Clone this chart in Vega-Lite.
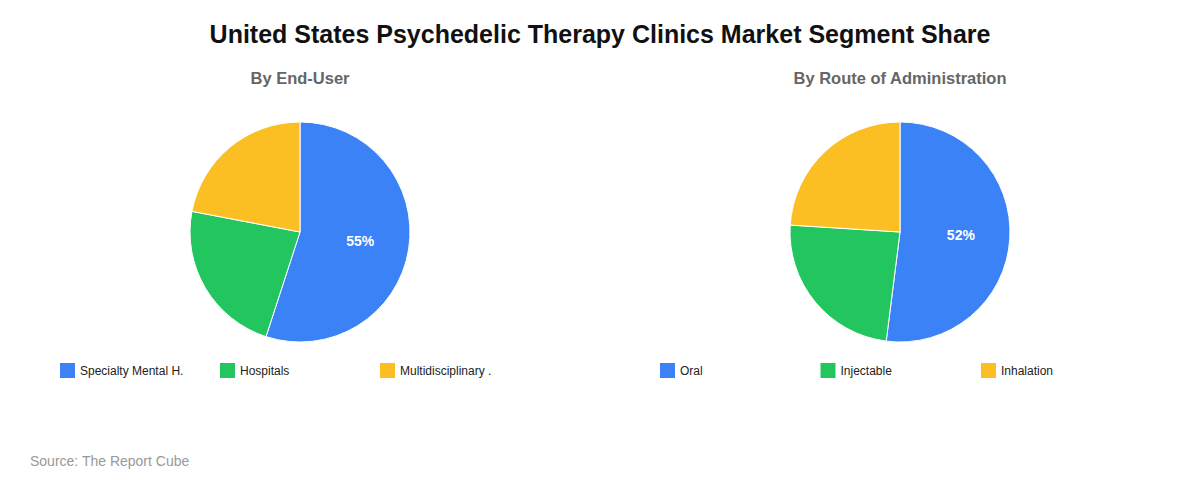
{
  "$schema": "https://vega.github.io/schema/vega-lite/v6.json",
  "padding": {"top": 22, "left": 0, "right": 0, "bottom": 10},
  "background": "white",
  "title": {
    "text": "United States Psychedelic Therapy Clinics Market Segment Share",
    "fontSize": 25,
    "fontWeight": "bold",
    "font": "Liberation Sans",
    "color": "#111111",
    "anchor": "middle",
    "offset": 23
  },
  "config": {
    "view": {"stroke": null},
    "font": "Liberation Sans",
    "concat": {"spacing": 0}
  },
  "vconcat": [
    {
      "title": {
        "text": "Source: The Report Cube",
        "orient": "bottom",
        "anchor": "start",
        "fontSize": 14,
        "fontWeight": "normal",
        "color": "#999999",
        "dx": 30,
        "offset": 77
      },
      "hconcat": [
        {
          "width": 600,
          "height": 260,
          "title": {"text": "By End-User", "fontSize": 16.5, "fontWeight": "bold", "color": "#666666", "anchor": "middle", "offset": 15},
          "data": {
            "values": [
              {"segment": "Specialty Mental H.", "share": 0.55, "rank": 1},
              {"segment": "Hospitals", "share": 0.23, "rank": 2},
              {"segment": "Multidisciplinary .", "share": 0.22, "rank": 3}
            ]
          },
          "encoding": {
            "theta": {"field": "share", "type": "quantitative", "stack": true},
            "order": {"field": "rank", "type": "quantitative"},
            "color": {
              "field": "segment",
              "type": "nominal",
              "sort": null,
              "scale": {
                "domain": ["Specialty Mental H.", "Hospitals", "Multidisciplinary ."],
                "range": ["#3b82f6", "#22c55e", "#fbbf24"]
              },
              "legend": {
                "title": null,
                "orient": "none",
                "legendX": 60,
                "legendY": 261,
                "direction": "horizontal",
                "columns": 3,
                "gridAlign": "all",
                "columnPadding": 36,
                "symbolType": "square",
                "symbolSize": 225,
                "symbolStrokeWidth": 0,
                "symbolOpacity": 1,
                "labelFontSize": 12,
                "labelColor": "#222222",
                "labelOffset": 5,
                "labelLimit": 200
              }
            }
          },
          "layer": [
            {"mark": {"type": "arc", "outerRadius": 110, "stroke": "white", "strokeWidth": 1}},
            {
              "mark": {"type": "text", "radius": 61, "fontSize": 14, "fontWeight": "bold", "fill": "white"},
              "encoding": {
                "text": {"condition": {"test": "datum.share < 0.3", "value": ""}, "field": "share", "type": "quantitative", "format": ".0%"},
                "color": {"value": "white"}
              }
            }
          ]
        },
        {
          "width": 600,
          "height": 260,
          "title": {"text": "By Route of Administration", "fontSize": 16.5, "fontWeight": "bold", "color": "#666666", "anchor": "middle", "offset": 15},
          "data": {
            "values": [
              {"segment": "Oral", "share": 0.52, "rank": 1},
              {"segment": "Injectable", "share": 0.24, "rank": 2},
              {"segment": "Inhalation", "share": 0.24, "rank": 3}
            ]
          },
          "encoding": {
            "theta": {"field": "share", "type": "quantitative", "stack": true},
            "order": {"field": "rank", "type": "quantitative"},
            "color": {
              "field": "segment",
              "type": "nominal",
              "sort": null,
              "scale": {
                "domain": ["Oral", "Injectable", "Inhalation"],
                "range": ["#3b82f6", "#22c55e", "#fbbf24"]
              },
              "legend": {
                "title": null,
                "orient": "none",
                "legendX": 60,
                "legendY": 261,
                "direction": "horizontal",
                "columns": 3,
                "gridAlign": "all",
                "columnPadding": 87.5,
                "symbolType": "square",
                "symbolSize": 225,
                "symbolStrokeWidth": 0,
                "symbolOpacity": 1,
                "labelFontSize": 12,
                "labelColor": "#222222",
                "labelOffset": 5,
                "labelLimit": 200
              }
            }
          },
          "layer": [
            {"mark": {"type": "arc", "outerRadius": 110, "stroke": "white", "strokeWidth": 1}},
            {
              "mark": {"type": "text", "radius": 61, "fontSize": 14, "fontWeight": "bold", "fill": "white"},
              "encoding": {
                "text": {"condition": {"test": "datum.share < 0.3", "value": ""}, "field": "share", "type": "quantitative", "format": ".0%"},
                "color": {"value": "white"}
              }
            }
          ]
        }
      ],
      "resolve": {"scale": {"color": "independent"}, "legend": {"color": "independent"}}
    }
  ]
}
